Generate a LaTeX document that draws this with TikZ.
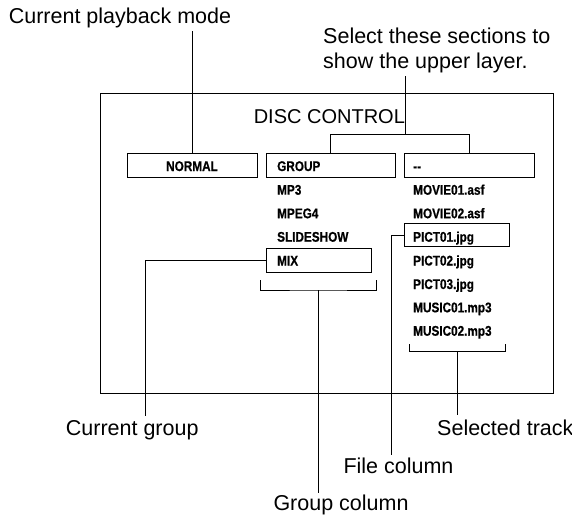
\documentclass[tikz,border=0pt]{standalone}
\usepackage{fontspec}
\setmainfont{Liberation Sans}
\newfontfamily\condfont[FakeStretch=0.84,FakeBold=0.6,UprightFont={* Bold}]{Liberation Sans}
\begin{document}
\begin{tikzpicture}[x=1pt,y=-1pt,
  line width=1pt,
  boxn/.style={draw, line width=1pt, minimum height=24pt, inner sep=0pt},
  small/.style={anchor=base west, inner sep=0pt, font=\condfont\fontsize{14}{16}\selectfont},
  big/.style={anchor=base west, inner sep=0pt, font=\fontsize{21.5}{25}\selectfont},
]
\useasboundingbox (0,0) rectangle (572,515);

% outer frame
\node[draw, line width=1pt, minimum width=453pt, minimum height=300.5pt, inner sep=0pt] (frame) at (326.5,243.25) {};
\node[anchor=base west, inner sep=0pt, font=\fontsize{20}{24}\selectfont] (title) at (253.3,123.3) {DISC CONTROL};

% boxes
\node[boxn, minimum width=130pt] (normalbox) at (192,165) {};
\node[boxn, minimum width=128.3pt] (groupbox) at (330.85,165) {};
\node[boxn, minimum width=130pt] (dashbox) at (469.3,165) {};
\node[boxn, minimum width=105pt, minimum height=23.4pt] (pictbox) at (456.8,235) {};
\node[boxn, minimum width=104.3pt] (mixbox) at (318.85,260.3) {};

% box texts
\node[anchor=base, inner sep=0pt, font=\condfont\fontsize{14}{16}\selectfont] (normal) at (192,171) {NORMAL};
\node[small] (group) at (276.7,171) {GROUP};
\node[small] (dash) at (412.7,171) {--};

% group column
\node[small] (mp3) at (276.7,194.7) {MP3};
\node[small] (mpeg4) at (276.7,218.2) {MPEG4};
\node[small] (slide) at (276.7,241.7) {SLIDESHOW};
\node[small] (mix) at (276.7,265.5) {MIX};

% file column
\node[small] (mov1) at (412.7,194.7) {MOVIE01.asf};
\node[small] (mov2) at (412.7,218.2) {MOVIE02.asf};
\node[small] (pict1) at (412.7,241.7) {PICT01.jpg};
\node[small] (pict2) at (412.7,265.5) {PICT02.jpg};
\node[small] (pict3) at (412.7,289) {PICT03.jpg};
\node[small] (mus1) at (412.7,312.3) {MUSIC01.mp3};
\node[small] (mus2) at (412.7,335.7) {MUSIC02.mp3};

% labels
\node[big] (lplay) at (8.3,23.3) {Current playback mode};
\node[big] (lsel1) at (322.7,43.5) {Select these sections to};
\node[big] (lsel2) at (322.7,68.5) {show the upper layer.};
\node[big] (lcg) at (65.4,435.5) {Current group};
\node[big] (lst) at (436.7,435.5) {Selected track};
\node[big] (lfc) at (343,473) {File column};
\node[big] (lgc) at (273,510.5) {Group column};

% connector coordinates
\coordinate (pbtop) at (192,31);
\coordinate (ultop) at (405.7,76);
\coordinate (ulmid) at (405.7,134.3);
\coordinate (cgend) at (145.7,416);
\coordinate (fcend) at (391,454.5);
\coordinate (gbl) at (260,280);
\coordinate (gbr) at (376.7,280);
\coordinate (gbm) at (318.3,290);
\coordinate (gcend) at (318.3,493);
\coordinate (fbl) at (409,344.3);
\coordinate (fbr) at (505.7,344.3);
\coordinate (fbm) at (457.3,351.7);
\coordinate (stend) at (457.3,415);

% connectors
\draw (pbtop) -- (normalbox.north);
\draw (ultop) -- (ulmid);
\draw (groupbox.north) |- (ulmid) -| (dashbox.north);
\draw (mixbox.west) -| (cgend);
\draw (pictbox.west) -| (fcend);
\draw (gbl) |- (gbm) -| (gbr);
\draw (gbm) -- (gcend);
\draw (fbl) |- (fbm) -| (fbr);
\draw (fbm) -- (stend);
\end{tikzpicture}
\end{document}
